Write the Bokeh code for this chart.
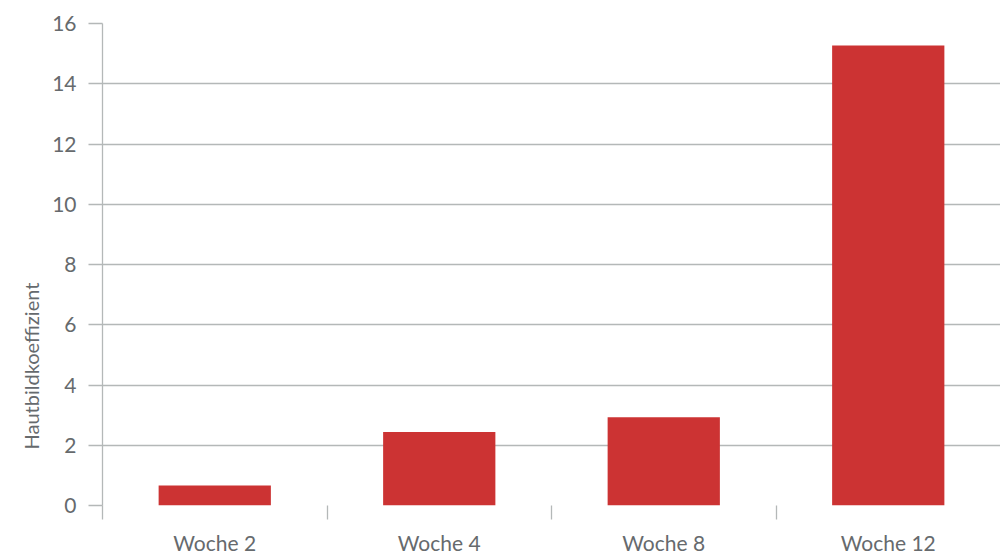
from bokeh.plotting import figure
from bokeh.models import (Range1d, LinearAxis, FixedTicker, SingleIntervalTicker,
                          Title, ColumnDataSource)
from bokeh.embed import file_html
from bokeh.resources import INLINE

categories = ["Woche 2", "Woche 4", "Woche 8", "Woche 12"]
values = [0.66, 2.44, 2.93, 15.27]
y_label = "Hautbildkoeffizient"

FONT = "Lato"
TXT = "#666a6d"
GRID = "#b4b8b8"
BAR = "#cc3333"

n = len(categories)
centers = [i + 0.5 for i in range(n)]
bounds = list(range(n))

src = ColumnDataSource(data=dict(x=centers, val=values, cat=categories))

p = figure(width=1000, height=557, x_range=Range1d(0, n),
           y_range=Range1d(0, 16), output_backend="svg", toolbar_location=None,
           x_axis_location=None, y_axis_location=None,
           min_border_left=102, min_border_top=23, min_border_right=0,
           min_border_bottom=10)
p.outline_line_color = None
p.xgrid.grid_line_color = None
p.ygrid.grid_line_color = GRID
p.ygrid.grid_line_width = 1.3
p.ygrid.ticker = SingleIntervalTicker(interval=2)

p.vbar(x="x", top="val", width=0.5, source=src, color=BAR, line_color=None)

# y axis
yax = LinearAxis(ticker=SingleIntervalTicker(interval=2, num_minor_ticks=0))
yax.axis_line_color = GRID
yax.axis_line_width = 1.3
yax.major_tick_line_color = GRID
yax.major_tick_line_width = 1.3
yax.major_tick_out = 14
yax.major_tick_in = 0
yax.minor_tick_line_color = None
yax.major_label_standoff = 12
yax.major_label_text_font = FONT
yax.major_label_text_font_size = "21px"
yax.major_label_text_color = TXT
p.add_layout(yax, "left")

# boundary ticks on x
bax = LinearAxis(ticker=FixedTicker(ticks=bounds))
bax.axis_line_color = None
bax.major_tick_line_color = GRID
bax.major_tick_line_width = 1.3
bax.major_tick_out = 14
bax.major_tick_in = 0
bax.minor_tick_line_color = None
bax.major_label_overrides = {b: "" for b in bounds}
bax.major_label_standoff = 0
bax.major_label_text_font_size = "1px"
p.add_layout(bax, "below")

# category labels
xax = LinearAxis(ticker=FixedTicker(ticks=centers))
xax.axis_line_color = None
xax.major_tick_line_color = None
xax.minor_tick_line_color = None
xax.major_tick_out = 0
xax.major_tick_in = 0
xax.major_label_overrides = {c: cat for c, cat in zip(centers, categories)}
xax.major_label_standoff = 10
xax.major_label_text_font = FONT
xax.major_label_text_font_size = "21px"
xax.major_label_text_color = TXT
p.add_layout(xax, "below")

t = Title(text=y_label, align="left", offset=56, text_font=FONT,
          text_font_size="20px", text_font_style="normal", text_color=TXT,
          standoff=14)
p.add_layout(t, "left")

open("out.html", "w").write(file_html(p, INLINE))
